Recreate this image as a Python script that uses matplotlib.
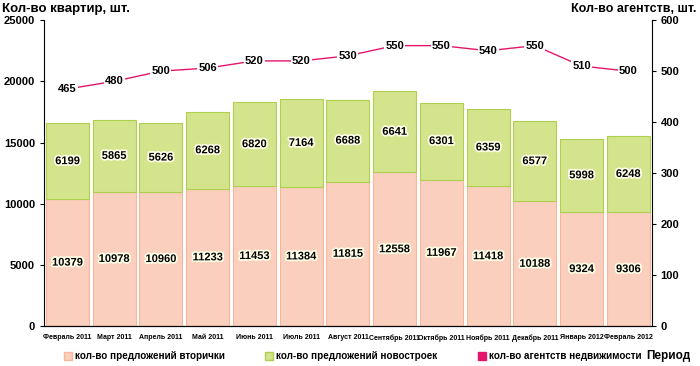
import numpy as np
import matplotlib
matplotlib.use("Agg")
import matplotlib.pyplot as plt
import matplotlib.patheffects as pe
from matplotlib.lines import Line2D

months = ["Февраль 2011", "Март 2011", "Апрель 2011", "Май 2011", "Июнь 2011",
          "Июль 2011", "Август 2011", "Сентябрь 2011", "Октябрь 2011",
          "Ноябрь 2011", "Декабрь 2011", "Январь 2012", "Февраль 2012"]
secondary = [10379, 10978, 10960, 11233, 11453, 11384, 11815, 12558, 11967,
             11418, 10188, 9324, 9306]
new_build = [6199, 5865, 5626, 6268, 6820, 7164, 6688, 6641, 6301, 6359,
             6577, 5998, 6248]
agencies = [465, 480, 500, 506, 520, 520, 530, 550, 550, 540, 550, 510, 500]

plt.rcParams['font.family'] = ['Liberation Sans Narrow', 'Liberation Sans', 'DejaVu Sans']
plt.rcParams['font.weight'] = 'bold'

pink = '#FBCFBD'
pink_edge = '#F5B79E'
green = '#D3E48D'
green_edge = '#AFCF4E'
line_col = '#E2166B'

fig = plt.figure(figsize=(7.0, 3.66), dpi=100)
ax = fig.add_axes([0.063, 0.109, 0.868, 0.836])
x = np.arange(len(months))

glow = [pe.withStroke(linewidth=2.5, foreground='#FFFFE8')]

ax.bar(x, secondary, width=0.92, color=pink, edgecolor=pink_edge, linewidth=0.8)
ax.bar(x, new_build, width=0.92, bottom=secondary, color=green,
       edgecolor=green_edge, linewidth=0.8)
for i in range(len(x)):
    ax.text(x[i], secondary[i] / 2, str(secondary[i]), ha='center', va='center',
            fontsize=8, fontweight='bold', path_effects=glow)
    ax.text(x[i], secondary[i] + new_build[i] / 2, str(new_build[i]), ha='center',
            va='center', fontsize=8, fontweight='bold', path_effects=glow)

ax.set_xlim(-0.5, len(months) - 0.5)
ax.set_ylim(0, 25000)
ax.set_yticks(np.arange(0, 25001, 5000))
ax.set_xticks(x)
ax.set_xticklabels(months, fontsize=5.0, fontweight='bold')
ax.tick_params(axis='x', length=0, pad=6)
ax.tick_params(axis='y', labelsize=8, length=3)
for lbl in ax.get_yticklabels():
    lbl.set_fontweight('bold')
ax.spines['top'].set_visible(False)
ax.spines['right'].set_visible(False)

ax2 = ax.twinx()
ax2.plot(x, agencies, color=line_col, linewidth=1.0)
for i in range(len(x)):
    ax2.text(x[i], agencies[i], str(agencies[i]), ha='center', va='center',
             fontsize=8, fontweight='bold',
             bbox=dict(boxstyle='square,pad=0.1', facecolor='white', edgecolor='none'))
ax2.set_ylim(0, 600)
ax2.set_yticks(np.arange(0, 601, 100))
ax2.tick_params(axis='y', labelsize=8, length=3)
for lbl in ax2.get_yticklabels():
    lbl.set_fontweight('bold')
ax2.spines['top'].set_visible(False)
ax2.spines['left'].set_visible(False)

fig.text(0.003, 0.975, "Кол-во квартир, шт.", fontsize=9.5, fontweight='bold', va='center')
fig.text(0.995, 0.975, "Кол-во агентств, шт.", fontsize=9, fontweight='bold',
         va='center', ha='right')

handles = [
    Line2D([], [], marker='s', linestyle='none', markersize=5.5, markerfacecolor=pink,
           markeredgecolor=pink_edge),
    Line2D([], [], marker='s', linestyle='none', markersize=5.5, markerfacecolor=green,
           markeredgecolor=green_edge),
    Line2D([], [], marker='s', linestyle='none', markersize=5.5, markerfacecolor=line_col,
           markeredgecolor=line_col),
]
labels = ["кол-во предложений вторички", "кол-во предложений новостроек",
          "кол-во агентств недвижимости"]
fig.legend(handles, labels, loc='center', bbox_to_anchor=(0.503, 0.027), ncol=3,
           frameon=False, fontsize=7.1, handletextpad=0.2, columnspacing=4.0,
           handlelength=1.0)
fig.text(0.987, 0.027, "Период", fontsize=8.5, fontweight='bold', va='center', ha='right')

fig.savefig("out.png", dpi=100)
